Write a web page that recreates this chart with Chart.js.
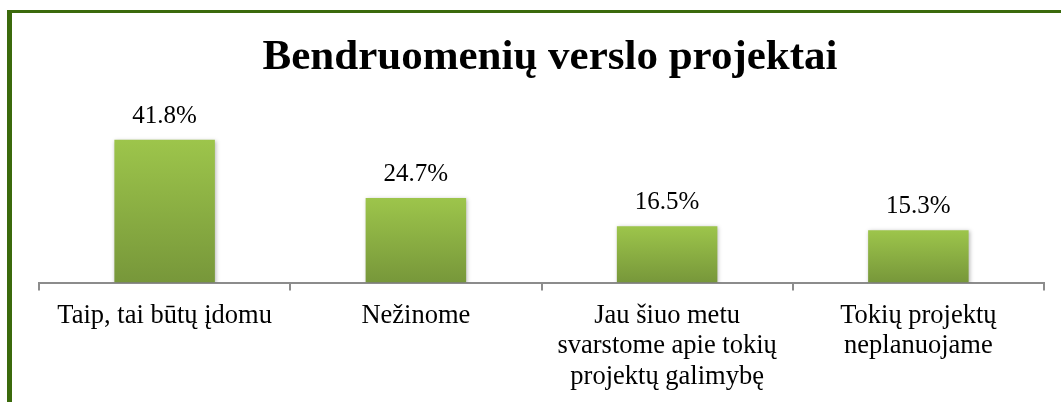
<!DOCTYPE html>
<html>
<head>
<meta charset="utf-8">
<script src="https://cdn.jsdelivr.net/npm/chart.js@4/dist/chart.umd.min.js"></script>
<style>
  html, body { margin: 0; padding: 0; background: #fff; overflow: hidden; }
  #wrap { position: relative; width: 1061px; height: 402px; overflow: hidden; }
  #frame {
    position: absolute; left: 7px; top: 10px; right: -10px; bottom: -10px;
    border-left: 5px solid #3b6a0c; border-top: 3px solid #3b6a0c;
    pointer-events: none;
  }
</style>
</head>
<body>
<div id="wrap">
  <canvas id="bar-chart" width="1061" height="420"></canvas>
  <div id="frame"></div>
</div>
<script>
var chartTitle = "Bendruomenių verslo projektai";
var categories = [
    "Taip, tai būtų įdomu",
    "Nežinome",
    ["Jau šiuo metu", "svarstome apie tokių", "projektų galimybę"],
    ["Tokių projektų", "neplanuojame"]
];
var values = [41.8, 24.7, 16.5, 15.3];

var serif = "'Liberation Serif', 'Times New Roman', serif";

// gradient per bar, top light green -> bottom darker green
function barFill(ctx) {
    var chart = ctx.chart;
    if (!chart.chartArea || ctx.type !== 'data') return "#8bb043";
    var y = chart.scales.y;
    var top = y.getPixelForValue(ctx.raw);
    var bottom = y.getPixelForValue(0);
    var g = chart.ctx.createLinearGradient(0, top, 0, bottom);
    g.addColorStop(0, "#9dc54b");
    g.addColorStop(1, "#77973a");
    return g;
}

var valueLabels = {
    id: 'valueLabels',
    beforeDatasetsDraw: function (chart) {
        var c = chart.ctx;
        c.save();
        c.shadowColor = "rgba(0,0,0,0.28)";
        c.shadowBlur = 4;
        c.shadowOffsetX = 1;
        c.shadowOffsetY = 1;
    },
    afterDatasetsDraw: function (chart) {
        var c = chart.ctx;
        c.restore();
        var meta = chart.getDatasetMeta(0);
        c.save();
        c.font = "25px " + serif;
        c.fillStyle = "#000";
        c.textAlign = "center";
        c.textBaseline = "alphabetic";
        meta.data.forEach(function (bar, i) {
            c.fillText(values[i].toFixed(1) + "%", bar.x, bar.y - 17);
        });
        c.restore();
    }
};

new Chart(document.getElementById("bar-chart"), {
    type: 'bar',
    data: {
        labels: categories,
        datasets: [{
            data: values,
            backgroundColor: barFill,
            borderWidth: 0,
            categoryPercentage: 1,
            barPercentage: 0.4
        }]
    },
    plugins: [valueLabels],
    options: {
        responsive: false,
        animation: { duration: 0 },
        layout: { padding: { left: 39, right: 0, top: 10, bottom: 18 } },
        plugins: {
            legend: { display: false },
            tooltip: { enabled: false },
            title: {
                display: true,
                text: chartTitle,
                color: "#000",
                font: { family: serif, size: 43, weight: 'bold' },
                padding: { top: 22, bottom: 28 }
            }
        },
        scales: {
            x: {
                grid: {
                    offset: true,
                    drawOnChartArea: false,
                    drawTicks: true,
                    tickLength: 8,
                    color: "#8c8c8c",
                    lineWidth: 2
                },
                border: { display: true, color: "#8c8c8c", width: 2 },
                ticks: {
                    color: "#000",
                    padding: 10,
                    maxRotation: 0,
                    autoSkip: false,
                    font: { family: serif, size: 26.5, lineHeight: 1.15 }
                }
            },
            y: {
                position: 'right',
                min: 0,
                max: 50,
                ticks: { display: false },
                grid: { display: false },
                border: { display: false },
                afterFit: function (scale) { scale.width = 17; }
            }
        }
    }
});
</script>
</body>
</html>
